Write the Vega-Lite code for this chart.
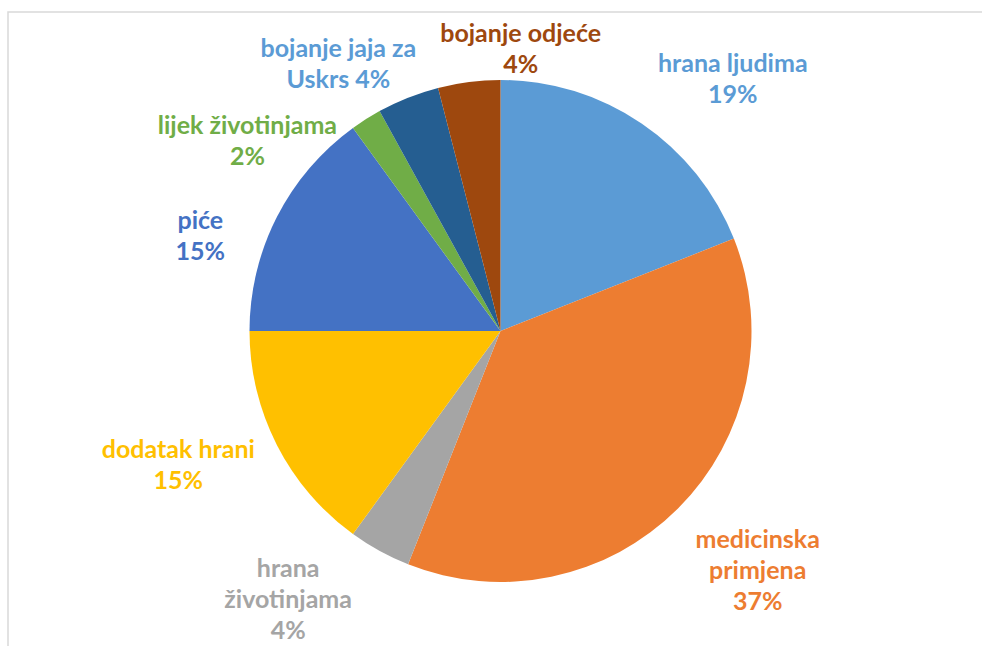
{
  "$schema": "https://vega.github.io/schema/vega-lite/v6.json",
  "width": 980,
  "height": 640,
  "autosize": "none",
  "padding": {"left": 8, "top": 12, "right": 0, "bottom": 0},
  "background": "white",
  "view": {"stroke": "#D9D9D9", "strokeWidth": 1.5},
  "data": {
    "values": [
      {"idx": 1, "kategorija": "hrana ljudima", "udio": 19, "oznaka": "hrana ljudima\n19%"},
      {"idx": 2, "kategorija": "medicinska primjena", "udio": 37, "oznaka": "medicinska\nprimjena\n37%"},
      {"idx": 3, "kategorija": "hrana životinjama", "udio": 4, "oznaka": "hrana\nživotinjama\n4%"},
      {"idx": 4, "kategorija": "dodatak hrani", "udio": 15, "oznaka": "dodatak hrani\n15%"},
      {"idx": 5, "kategorija": "piće", "udio": 15, "oznaka": "piće\n15%"},
      {"idx": 6, "kategorija": "lijek životinjama", "udio": 2, "oznaka": "lijek životinjama\n2%"},
      {"idx": 7, "kategorija": "bojanje jaja za Uskrs", "udio": 4, "oznaka": "bojanje jaja za\nUskrs 4%"},
      {"idx": 8, "kategorija": "bojanje odjeće", "udio": 4, "oznaka": "bojanje odjeće\n4%"}
    ]
  },
  "encoding": {
    "theta": {"field": "udio", "type": "quantitative", "stack": true},
    "order": {"field": "idx", "type": "quantitative", "sort": "ascending"}
  },
  "layer": [
    {
      "mark": {"type": "arc", "outerRadius": 251, "x": {"expr": "width / 2 + 2.5"}, "y": {"expr": "height / 2 - 1"}},
      "encoding": {
        "color": {
          "field": "kategorija",
          "type": "nominal",
          "legend": null,
          "scale": {
            "domain": ["hrana ljudima", "medicinska primjena", "hrana životinjama", "dodatak hrani", "piće", "lijek životinjama", "bojanje jaja za Uskrs", "bojanje odjeće"],
            "range": ["#5B9BD5", "#ED7D31", "#A5A5A5", "#FFC000", "#4472C4", "#70AD47", "#255E91", "#9E480E"]
          }
        }
      }
    },
    {
      "mark": {
        "type": "text",
        "radius": 310,
        "x": {"expr": "width / 2 + 2.5"},
        "y": {"expr": "height / 2 - 1"},
        "font": "Lato",
        "fontWeight": "bold",
        "fontSize": 25,
        "lineHeight": 31,
        "lineBreak": "\n",
        "align": "center",
        "baseline": "middle",
        "dx": {"expr": "datum.idx == 1 ? 58 : datum.idx == 2 ? 38 : datum.idx == 3 ? -63 : datum.idx == 4 ? -46 : datum.idx == 5 ? -24 : datum.idx == 6 ? -87 : datum.idx == 7 ? -48 : 59"},
        "dy": {"expr": "datum.idx == 1 ? -10.5 : datum.idx == 2 ? -10 : datum.idx == 3 ? -34 : datum.idx == 4 ? -21.5 : datum.idx == 5 ? 30.5 : datum.idx == 6 ? 56.5 : datum.idx == 7 ? 6.5 : 10.5"}
      },
      "encoding": {
        "text": {"field": "oznaka", "type": "nominal"},
        "color": {
          "field": "kategorija",
          "type": "nominal",
          "legend": null,
          "scale": {
            "domain": ["hrana ljudima", "medicinska primjena", "hrana životinjama", "dodatak hrani", "piće", "lijek životinjama", "bojanje jaja za Uskrs", "bojanje odjeće"],
            "range": ["#5B9BD5", "#ED7D31", "#A5A5A5", "#FFC000", "#4472C4", "#70AD47", "#5B9BD5", "#9E480E"]
          }
        }
      }
    }
  ],
  "resolve": {"scale": {"color": "independent"}}
}
